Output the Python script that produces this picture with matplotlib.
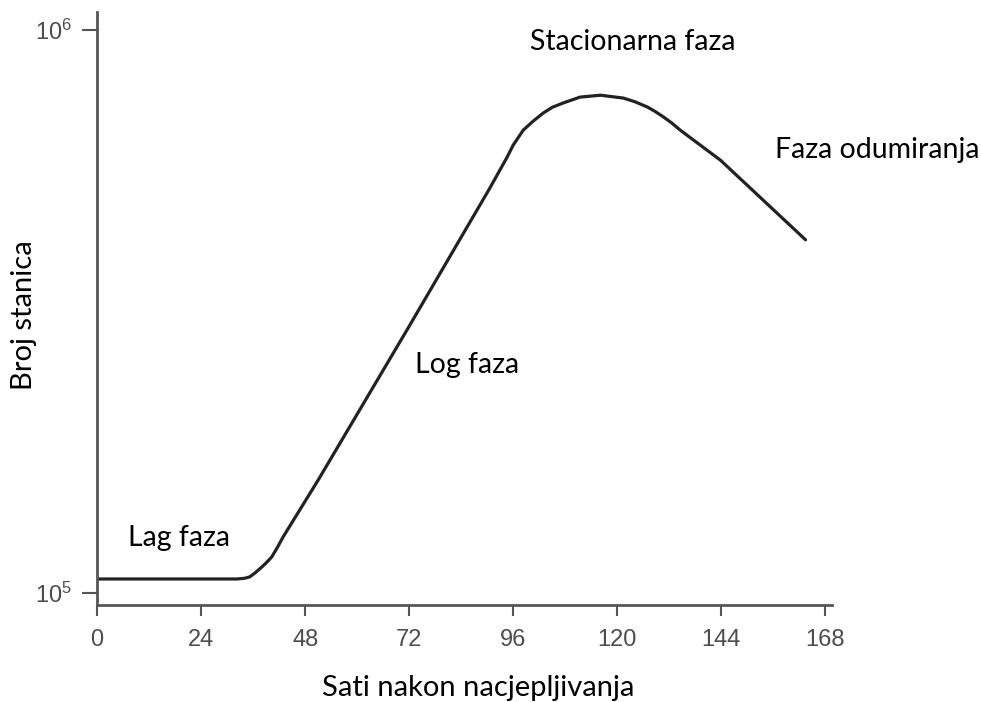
import matplotlib
matplotlib.use("Agg")
import matplotlib.pyplot as plt
from matplotlib.ticker import FixedLocator, NullLocator, FuncFormatter

plt.rcParams["mathtext.fontset"] = "custom"
plt.rcParams["mathtext.rm"] = "Liberation Sans"

# hours after inoculation and cell count
hours = [0, 32.2, 34.0, 35.2, 36.4, 38.0, 39.2, 40.3, 41.6, 42.9, 51.0,
         71.8, 90.6, 94.6, 96.0, 98.3, 100.6, 102.9, 105.0, 107.5, 111.4,
         116.1, 121.4, 124.0, 126.9, 128.8, 130.6, 132.5, 134.5, 143.8,
         163.4]
cells = [1.059e5, 1.059e5, 1.062e5, 1.068e5, 1.085e5, 1.112e5, 1.135e5,
         1.159e5, 1.205e5, 1.257e5, 1.587e5, 2.96e5, 5.24e5, 5.95e5,
         6.25e5, 6.64e5, 6.89e5, 7.12e5, 7.29e5, 7.42e5, 7.60e5, 7.66e5,
         7.57e5, 7.46e5, 7.30e5, 7.16e5, 7.01e5, 6.84e5, 6.64e5, 5.87e5,
         4.24e5]

x_ticks = [0, 24, 48, 72, 96, 120, 144, 168]
y_ticks = [1e5, 1e6]
y_tick_labels = [r"$\mathregular{10^5}$", r"$\mathregular{10^6}$"]

phase_labels = ["Lag faza", "Log faza", "Stacionarna faza", "Faza odumiranja"]

W, H = 981, 702
fig = plt.figure(figsize=(W / 100, H / 100), dpi=100)
ax = fig.add_axes([97 / W, 1 - 605 / H, 735 / W, 593 / H])

ax.plot(hours, cells, color="#222222", lw=2.3, solid_capstyle="round",
        solid_joinstyle="round")

ax.set_yscale("log")
ax.set_xlim(0, 169.5)
ax.set_ylim(10 ** 4.9787, 10 ** 6.032)

ax.set_xticks(x_ticks)
ax.yaxis.set_major_locator(FixedLocator(y_ticks))
ax.yaxis.set_minor_locator(NullLocator())
ax.yaxis.set_major_formatter(FuncFormatter(
    lambda v, p: y_tick_labels[y_ticks.index(v)] if v in y_ticks else ""))

for side in ["top", "right"]:
    ax.spines[side].set_visible(False)
for side in ["left", "bottom"]:
    ax.spines[side].set_color("#555555")
    ax.spines[side].set_linewidth(2)

ax.tick_params(axis="x", length=8, width=1.5, color="#555555", labelsize=17,
               labelcolor="#4d4d4d", pad=9)
ax.tick_params(axis="y", length=11, width=1.5, color="#555555", labelsize=17,
               labelcolor="#4d4d4d", pad=7)
for lab in ax.get_xticklabels() + ax.get_yticklabels():
    lab.set_family("Liberation Sans")

font = "Lato"
fig.text(478 / W, 1 - 688 / H, "Sati nakon nacjepljivanja", fontsize=21,
         family=font, ha="center", va="center")
fig.text(24 / W, 1 - 315 / H, "Broj stanica", fontsize=21, family=font,
         rotation=90, ha="center", va="center")

label_pos = [(128, 538), (415, 365), (530, 42), (775, 150)]
for txt, (px, py) in zip(phase_labels, label_pos):
    fig.text(px / W, 1 - py / H, txt, fontsize=20.5, family=font,
             ha="left", va="center")

fig.savefig("out.png", dpi=100)
